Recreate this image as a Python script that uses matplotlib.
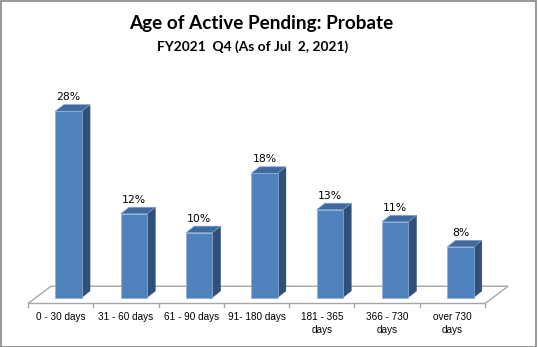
import matplotlib
matplotlib.use("Agg")
import matplotlib.pyplot as plt
from matplotlib.patches import Polygon, Rectangle
import numpy as np

# data
categories = ["0 - 30 days", "31 - 60 days", "61 - 90 days", "91- 180 days",
              "181 - 365\ndays", "366 - 730\ndays", "over 730\ndays"]
values = [27.6, 12.4, 9.6, 18.4, 13.0, 11.2, 7.5]
title = "Age of Active Pending: Probate"
subtitle = "FY2021  Q4 (As of Jul  2, 2021)"

W, H = 538, 347
fig = plt.figure(figsize=(W / 100, H / 100), dpi=100)
ax = fig.add_axes([0, 0, 1, 1])

# pixel -> data scale
px_x = 65.3      # px per category
px_y = 6.75      # px per percent
x0_px = 60.6     # px of first category (front) center
base_px = 347 - 297.5
ax.set_xlim(-x0_px / px_x, (W - x0_px) / px_x)
ax.set_ylim(-base_px / px_y, (H - base_px) / px_y)
ax.axis("off")

x = np.arange(len(categories))
n = len(categories)

# floor (3d plane)
floor_front = (303.5 - 297.5) / px_y * -1
floor_back = (297.5 - 286.3) / px_y
fdx = 23 / px_x
floor = Polygon([(-0.5, floor_front), (n - 0.5, floor_front),
                 (n - 0.5 + fdx, floor_back), (-0.5 + fdx, floor_back)],
                closed=True, facecolor="white", edgecolor="#a6a6a6", lw=1, zorder=1)
ax.add_patch(floor)
for k in range(n + 1):
    ax.plot([k - 0.5, k - 0.5], [floor_front, floor_front - 3.5 / px_y],
            color="#a6a6a6", lw=1, zorder=1)

# bars
off = 8 / px_x
bw = 26.3 / px_x
ddx = 8.3 / px_x
ddy = 6.5 / px_y
front_c = "#4f81bd"
top_c = "#3f6a9f"
side_c = "#30507a"

ax.bar(x + off, values, width=bw, color=front_c, edgecolor="#8fb0d8",
       linewidth=0.5, zorder=3)
for xi, v in zip(x + off, values):
    l, r = xi - bw / 2, xi + bw / 2
    side = Polygon([(r, 0), (r + ddx, ddy), (r + ddx, v + ddy), (r, v)],
                   closed=True, facecolor=side_c, edgecolor=side_c, lw=0.3, zorder=2)
    top = Polygon([(l, v), (r, v), (r + ddx, v + ddy), (l + ddx, v + ddy)],
                  closed=True, facecolor=top_c, edgecolor="#7f9fc8", lw=0.5, zorder=2)
    ax.add_patch(side)
    ax.add_patch(top)
    ax.text(xi, v + ddy + 2.5 / px_y, "{:.0f}%".format(v), ha="center", va="bottom",
            fontsize=7.8, family="DejaVu Sans", color="black", zorder=4)

# category labels
for xi, lab in zip(x, categories):
    ax.text(xi, floor_front - 9 / px_y, lab, ha="center", va="top",
            fontsize=7.2, family="Liberation Sans", linespacing=1.35, color="black")

# titles
fig.text(261 / W, 1 - 23.5 / H, title, ha="center", va="center",
         fontsize=13.6, fontweight="bold", family="Lato")
fig.text(253 / W, 1 - 47 / H, subtitle, ha="center", va="center",
         fontsize=9.9, fontweight="bold", family="Lato")

# outer border
fig.patches.append(Rectangle((0.5 / W, 0.5 / H), 1 - 2.5 / W, 1 - 1.5 / H,
                             transform=fig.transFigure, fill=False,
                             edgecolor="#868686", lw=1.2))

fig.savefig("out.png", dpi=100)
